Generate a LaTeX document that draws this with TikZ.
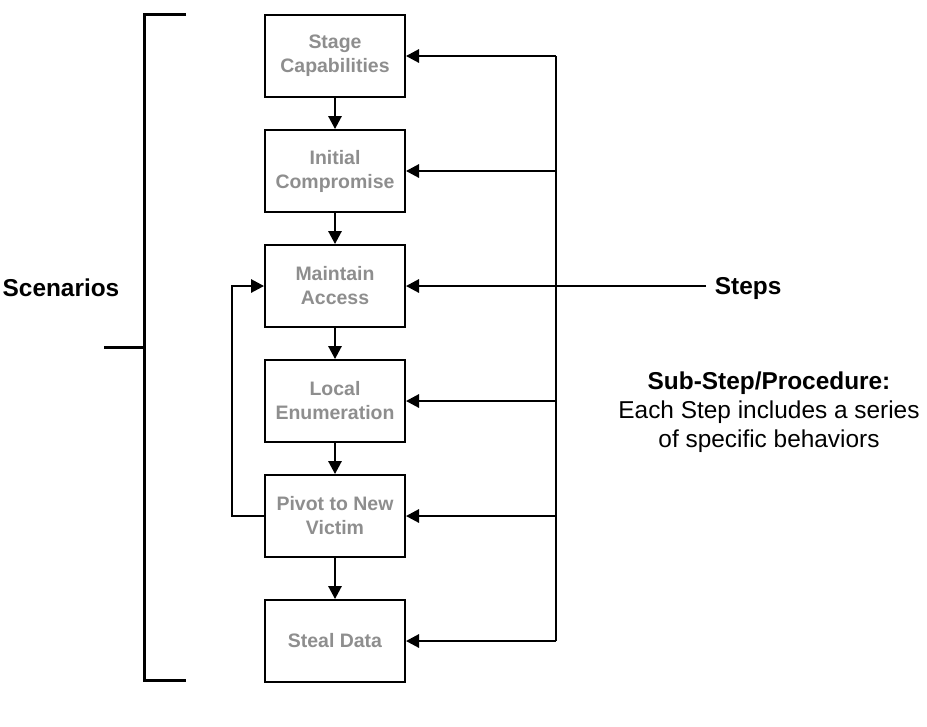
\documentclass[tikz,border=0pt]{standalone}
\usepackage{fontspec}
\setmainfont{Liberation Sans}
\usetikzlibrary{arrows.meta, positioning}
\definecolor{boxgray}{RGB}{142,142,142}
\tikzstyle{stepbox} = [draw, line width=1.5pt, fill=white, rectangle, minimum width=105pt, minimum height=61.5pt, align=center, text=boxgray, font=\fontsize{14.6}{18}\selectfont\bfseries]
\tikzstyle{bigtext} = [align=center, font=\fontsize{18.3}{21.8}\selectfont]
\tikzstyle{link} = [line width=1.5pt]

\begin{document}
\begin{tikzpicture}[>={Triangle[length=9.75pt,width=10pt]}, x=0.75pt, y=-0.75pt]
    \useasboundingbox (0,0) rectangle (927,726);
    \node[stepbox] (stage) at (335,56) {Stage\\Capabilities};
    \node[stepbox, below of=stage, node distance=86.25pt] (init) {Initial\\Compromise};
    \node[stepbox, below of=init, node distance=86.25pt] (maint) {Maintain\\Access};
    \node[stepbox, below of=maint, node distance=86.25pt] (local) {Local\\Enumeration};
    \node[stepbox, below of=local, node distance=86.25pt] (pivot) {Pivot to New\\Victim};
    \node[stepbox, below of=pivot, node distance=93.75pt] (steal) {Steal Data};
    \draw[link,->] (stage) -- (init);
    \draw[link,->] (init) -- (maint);
    \draw[link,->] (maint) -- (local);
    \draw[link,->] (local) -- (pivot);
    \draw[link,->] (pivot) -- (steal);
    \draw[link,->] (pivot.west) -- ++(-32,0) |- (maint.west);
    \coordinate (bustop) at (556,56);
    \coordinate (busbot) at (556,641);
    \draw[link] (bustop) -- (busbot);
    \foreach \b in {stage,init,local,pivot,steal}
        \draw[link,->] (bustop |- \b.east) -- (\b.east);
    \node[bigtext, anchor=west, inner xsep=6.5pt] (steps) at (706,289) {\bfseries Steps};
    \draw[link,->] (maint.east -| steps.west) -- (maint.east);
    \node[bigtext] (substep) at (769,412) {\bfseries Sub-Step/Procedure:\\Each Step includes a series\\of specific behaviors};
    \node[bigtext] (scen) at (61,288) {\bfseries Scenarios};
    \coordinate (brtop) at (186,14);
    \coordinate (brbot) at (186,680);
    \coordinate (brtick) at (104,347);
    \draw[line width=2.25pt] (brtop) -- (144,14) -- (144,680) -- (brbot);
    \draw[line width=2.25pt] (brtick) -- (144,347);
\end{tikzpicture}
\end{document}
